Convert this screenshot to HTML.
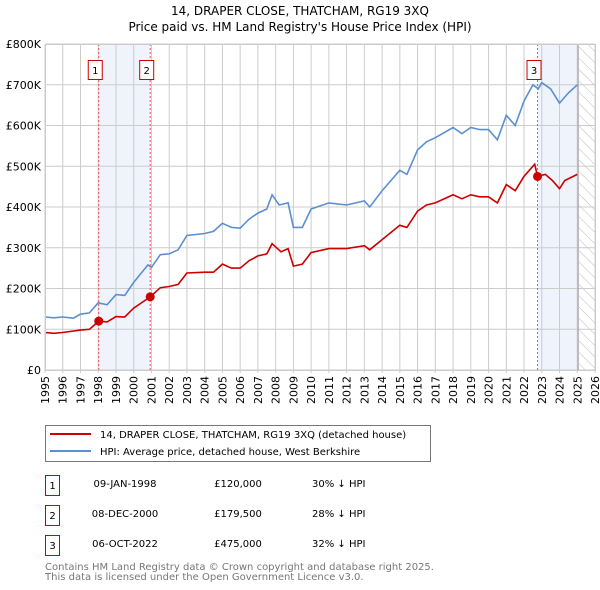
<!DOCTYPE html>
<html><head><meta charset="utf-8"><style>
body{margin:0;background:#fff;font-family:"DejaVu Sans","Liberation Sans",sans-serif}
svg{display:block}
</style></head><body>
<svg id="c" width="600" height="590" xmlns="http://www.w3.org/2000/svg" font-family="DejaVu Sans, Liberation Sans, sans-serif">
<defs><pattern id="hatch" width="8" height="8" patternUnits="userSpaceOnUse" patternTransform="rotate(-45)"><line x1="0" y1="0" x2="0" y2="8" stroke="#bbb" stroke-width="1"/></pattern></defs>
<text x="300" y="15" text-anchor="middle" font-size="12">14, DRAPER CLOSE, THATCHAM, RG19 3XQ</text>
<text x="300" y="31" text-anchor="middle" font-size="12">Price paid vs. HM Land Registry's House Price Index (HPI)</text>
<g id="grid"></g><g id="marks"></g><g id="axes"></g>
<g>
<rect x="45.5" y="425.5" width="385" height="36" fill="#fff" stroke="#777"/>
<line x1="50" y1="434" x2="91" y2="434" stroke="#cc0000" stroke-width="2"/>
<text x="100" y="438" font-size="10">14, DRAPER CLOSE, THATCHAM, RG19 3XQ (detached house)</text>
<line x1="50" y1="451" x2="91" y2="451" stroke="#5b8fd0" stroke-width="2"/>
<text x="100" y="455" font-size="10">HPI: Average price, detached house, West Berkshire</text>
</g>
<g font-size="10">
<rect x="45.5" y="475.5" width="14" height="20" fill="none" stroke="#cc0000"/><text x="52.5" y="489" text-anchor="middle">1</text>
<text x="125" y="487" text-anchor="middle">09-JAN-1998</text><text x="238" y="487" text-anchor="middle">£120,000</text><text x="312" y="487">30% ↓ HPI</text>
<rect x="45.5" y="505.5" width="14" height="20" fill="none" stroke="#cc0000"/><text x="52.5" y="519" text-anchor="middle">2</text>
<text x="125" y="517" text-anchor="middle">08-DEC-2000</text><text x="238" y="517" text-anchor="middle">£179,500</text><text x="312" y="517">28% ↓ HPI</text>
<rect x="45.5" y="535.5" width="14" height="20" fill="none" stroke="#cc0000"/><text x="52.5" y="549" text-anchor="middle">3</text>
<text x="125" y="547" text-anchor="middle">06-OCT-2022</text><text x="238" y="547" text-anchor="middle">£475,000</text><text x="312" y="547">32% ↓ HPI</text>
</g>
<text x="45" y="570" font-size="10" fill="#777">Contains HM Land Registry data © Crown copyright and database right 2025.</text>
<text x="45" y="580" font-size="10" fill="#777">This data is licensed under the Open Government Licence v3.0.</text>
</svg>
<script>
const hpiYears=[1995,1995.5,1996,1996.6,1997,1997.5,1998,1998.5,1999,1999.5,2000,2000.8,2001,2001.5,2002,2002.5,2003,2004,2004.5,2005,2005.5,2006,2006.5,2007,2007.5,2007.8,2008.2,2008.7,2009,2009.5,2010,2011,2012,2013,2013.3,2014,2015,2015.4,2016,2016.5,2017,2018,2018.5,2019,2019.5,2020,2020.5,2021,2021.5,2022,2022.5,2022.8,2023,2023.5,2024,2024.5,2025];
const hpiValues=[130,128,130,127,137,140,165,160,185,183,215,258,252,283,285,295,330,335,340,360,350,348,370,385,395,430,405,410,350,350,395,410,405,415,400,440,490,480,540,560,570,595,580,595,590,590,565,625,600,660,700,690,705,690,655,680,700];
const ppYears=[1995,1995.5,1996,1997,1997.5,1998.03,1998.5,1999,1999.5,2000,2000.93,2001.5,2002,2002.5,2003,2004,2004.5,2005,2005.5,2006,2006.5,2007,2007.5,2007.8,2008.3,2008.7,2009,2009.5,2010,2011,2012,2013,2013.3,2014,2015,2015.4,2016,2016.5,2017,2018,2018.5,2019,2019.5,2020,2020.5,2021,2021.5,2022,2022.6,2022.76,2023.2,2023.6,2024,2024.3,2025];
const ppValues=[92,90,92,98,100,120,118,131,130,152,179.5,202,205,210,238,240,240,260,250,250,268,280,285,310,290,298,255,260,288,298,298,305,295,320,355,350,390,405,410,430,420,430,425,425,410,455,440,475,505,475,480,465,445,465,480];
const saleYears=[1998.03,2000.93,2022.76];
const saleValues=[120,179.5,475];
const saleLabels=["1","2","3"];
const yTicks=[0,100,200,300,400,500,600,700,800];
const yTickLabels=["£0","£100K","£200K","£300K","£400K","£500K","£600K","£700K","£800K"];
const xTicks=[1995,1996,1997,1998,1999,2000,2001,2002,2003,2004,2005,2006,2007,2008,2009,2010,2011,2012,2013,2014,2015,2016,2017,2018,2019,2020,2021,2022,2023,2024,2025,2026];
const NS="http://www.w3.org/2000/svg";
const X0=45,X1=595,Y0=370,Y1=44;
const sx=v=>X0+(v-1995)*(X1-X0)/31;
const sy=v=>Y0-v*(Y0-Y1)/800;
function mk(t,a,p){const e=document.createElementNS(NS,t);for(const k in a)e.setAttribute(k,a[k]);p.appendChild(e);return e;}
const grid=document.getElementById('grid'),marks=document.getElementById('marks'),axes=document.getElementById('axes');
let r=mk('rect',{x:sx(1998.03),y:Y1,width:sx(2000.93)-sx(1998.03),height:Y0-Y1,fill:'#eef3fc'},grid);


r=mk('rect',{x:sx(2022.76),y:Y1,width:sx(2025.05)-sx(2022.76),height:Y0-Y1,fill:'#eef3fc'},grid);


r=mk('rect',{x:sx(2025.1),y:Y1,width:X1-sx(2025.1),height:Y0-Y1,fill:'url(#hatch)'},grid);


yTicks.forEach((v,i)=>{const l=mk('line',{x1:X0,x2:X1,y1:sy(v),y2:sy(v),stroke:'#ccc'},grid);


const t=mk('text',{x:X0-4,y:sy(v)+4,'text-anchor':'end','font-size':'11'},axes);t.textContent=yTickLabels[i];

});
xTicks.forEach(v=>{const l=mk('line',{x1:sx(v),x2:sx(v),y1:Y1,y2:Y0+3,stroke:'#ccc'},grid);


const t=mk('text',{x:0,y:0,'text-anchor':'end','font-size':'11',transform:`translate(${sx(v)+4},${Y0+6}) rotate(-90)`},axes);t.textContent=v;

});
const v25=mk('line',{x1:sx(2025.05),x2:sx(2025.05),y1:Y1,y2:Y0,stroke:'#999'},grid);


saleYears.forEach((y,i)=>{const l=mk('line',{x1:sx(y),x2:sx(y),y1:Y1,y2:Y0,stroke:'#e55','stroke-dasharray':'2,2'},grid);

});
function path(xs,vs,col,name){let d=xs.map((x,i)=>(i?'L':'M')+sx(x).toFixed(1)+','+sy(vs[i]).toFixed(1)).join('');
const p=mk('path',{d:d,fill:'none',stroke:col,'stroke-width':1.6},marks);

}
path(hpiYears,hpiValues,'#5b8fd0','hpi-line');
path(ppYears,ppValues,'#cc0000','price-paid-line');
saleYears.forEach((y,i)=>{const c=mk('circle',{cx:sx(y),cy:sy(saleValues[i]),r:4.5,fill:'#cc0000'},marks);


const b=mk('rect',{x:sx(y)-10.5,y:60.5,width:14,height:19,fill:'#fff',stroke:'#cc0000'},marks);


const t=mk('text',{x:sx(y)-3.5,y:74,'text-anchor':'middle','font-size':'10'},marks);t.textContent=saleLabels[i];

});
const f=mk('rect',{x:X0+.5,y:Y1+.5,width:X1-X0,height:Y0-Y1,fill:'none',stroke:'#ccc'},axes);


</script>
</body></html>
